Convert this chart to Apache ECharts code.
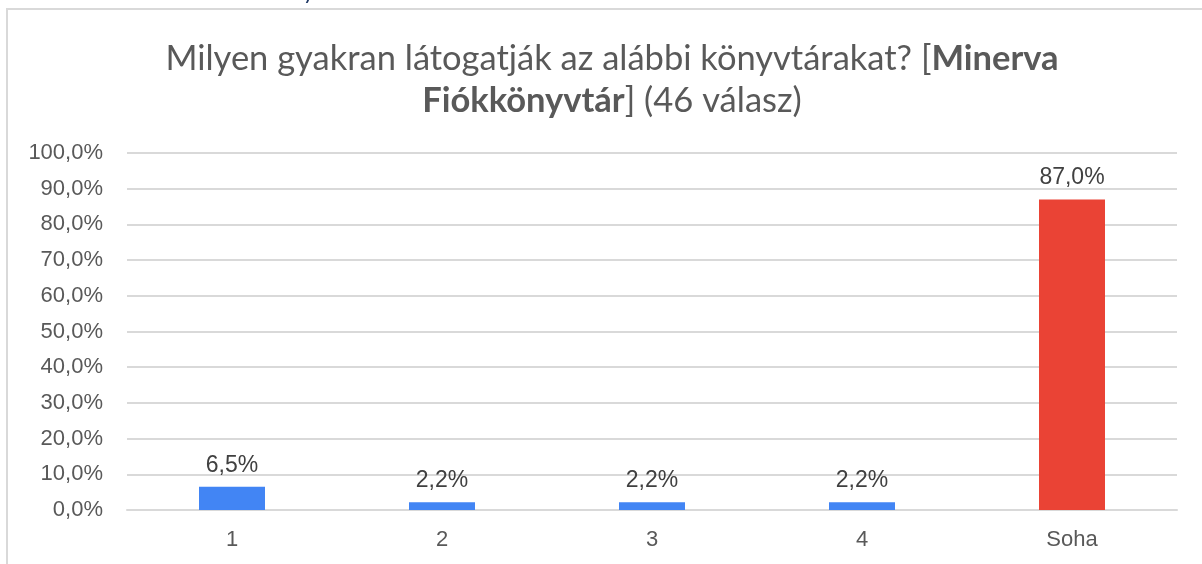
<!DOCTYPE html>
<html lang="hu">
  <head>
    <meta charset="utf-8">
    <title>Minerva Fiókkönyvtár</title>
    <style>
      html, body { margin: 0; padding: 0; background: #fff; }
      #main { width: 1202px; height: 564px; }
    </style>
  </head>
  <body>
    <div id="main"></div>
    <script src="https://cdn.jsdelivr.net/npm/echarts@6/dist/echarts.min.js"></script>
    <script>
      // adatok
      var categories = ['1', '2', '3', '4', 'Soha'];
      var values = [6.5, 2.2, 2.2, 2.2, 87.0];
      var barColors = ['#4285f4', '#4285f4', '#4285f4', '#4285f4', '#ea4335'];
      var yTicks = [0, 10, 20, 30, 40, 50, 60, 70, 80, 90, 100];

      function pct(v) {
        return v.toFixed(1).replace('.', ',') + '%';
      }

      var myChart = echarts.init(document.getElementById('main'));

      var option = {
        backgroundColor: '#fff',
        animation: false,
        title: {
          left: 607,
          top: 33,
          textAlign: 'center',
          text: '{n|Milyen gyakran látogatják az alábbi könyvtárakat? [}{b|Minerva}\n{b|Fiókkönyvtár}{n|] (46 válasz)}',
          textStyle: {
            fontWeight: 'normal',
            lineHeight: 42,
            rich: {
              n: { fontFamily: 'Lato', fontSize: 34.5, fontWeight: 'normal', color: '#595959', lineHeight: 42 },
              b: { fontFamily: 'Lato', fontSize: 34.5, fontWeight: 'bold', color: '#595959', lineHeight: 42 }
            }
          }
        },
        graphic: [
          {
            type: 'rect',
            shape: { x: 7, y: 9, width: 1400, height: 700 },
            style: { fill: 'none', stroke: '#d9d9d9', lineWidth: 2 },
            silent: true
          },
          {
            type: 'text',
            left: 303,
            top: -19,
            style: { text: 'y', fontFamily: 'Lato', fontSize: 22, fill: '#1f3864' },
            silent: true
          }
        ],
        grid: {
          left: 127,
          right: 25,
          top: 153,
          bottom: 54
        },
        xAxis: {
          type: 'category',
          data: categories,
          axisTick: { show: false },
          axisLine: { lineStyle: { color: '#d9d9d9', width: 2 } },
          axisLabel: {
            color: '#595959',
            fontFamily: 'Liberation Sans',
            fontSize: 22,
            margin: 19
          }
        },
        yAxis: {
          type: 'value',
          min: yTicks[0],
          max: yTicks[yTicks.length - 1],
          interval: 10,
          axisLine: { show: false },
          axisTick: { show: false },
          splitLine: { lineStyle: { color: '#d9d9d9', width: 2 } },
          axisLabel: {
            color: '#595959',
            fontFamily: 'Liberation Sans',
            fontSize: 22,
            margin: 24,
            formatter: function (v) { return pct(v); }
          }
        },
        series: [{
          type: 'bar',
          barWidth: 66,
          data: values.map(function (v, i) {
            return { value: v, itemStyle: { color: barColors[i] } };
          }),
          label: {
            show: true,
            position: 'top',
            distance: 10,
            color: '#404040',
            fontFamily: 'Liberation Sans',
            fontSize: 23,
            formatter: function (p) { return pct(p.value); }
          }
        }]
      };

      myChart.setOption(option);
    </script>
  </body>
</html>
